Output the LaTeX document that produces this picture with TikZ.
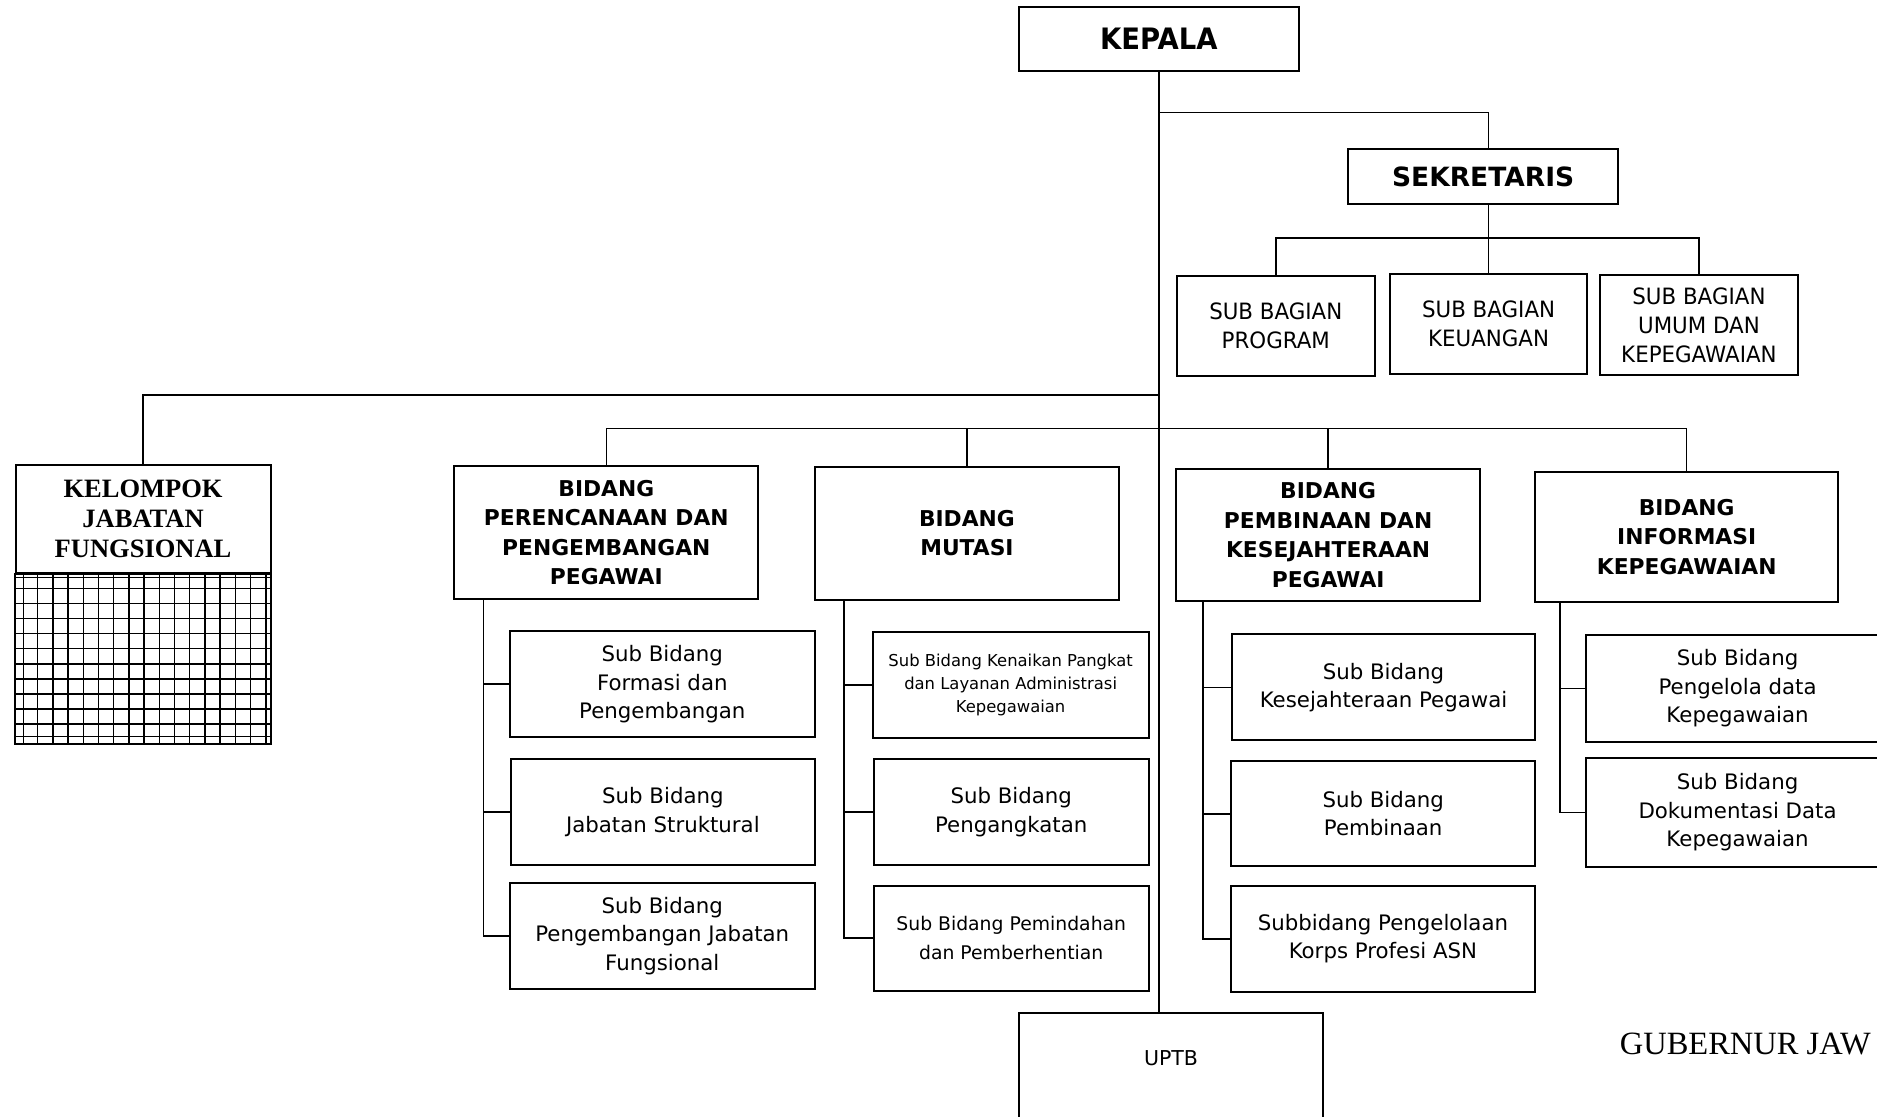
\documentclass[tikz,border=0pt]{standalone}
\usepackage{fontspec}
\setmainfont{DejaVu Sans}
\newfontfamily\sansnarrow[FakeStretch=0.95]{DejaVu Sans}
\newfontfamily\sanskep[FakeStretch=0.93]{DejaVu Sans}
\newfontfamily\timesf{Liberation Serif}
\usetikzlibrary{calc}
\begin{document}
\begin{tikzpicture}[x=1.19707pt,y=-1.19707pt,
  box/.style={draw,line width=2pt,inner sep=0pt,align=center},
  bx/.style n args={4}{at={({(#1+#3)/2},{(#2+#4)/2})},
     minimum width={(#3-#1)*1.19707pt}, minimum height={(#4-#2)*1.19707pt}},
  conn/.style={line width=1.6pt},
  gridln/.style={line width=1.5pt},
  subf/.style={font=\fontsize{21.3}{28.5}\selectfont},
  headf/.style={font=\bfseries\fontsize{21.8}{29.5}\selectfont},
  bagf/.style={font=\sansnarrow\fontsize{22.5}{29}\selectfont},
]
\useasboundingbox (0,0) rectangle (1568,933);
\fill[white] (0,0) rectangle (1568,933);
\clip (0,0) rectangle (1568,933);

% top
\node[box,bx={851}{6}{1085}{59},font=\sanskep\bfseries\fontsize{29.5}{32}\selectfont] (kepala) {KEPALA};
\node[box,bx={1126}{124.5}{1352}{170.5},font=\bfseries\fontsize{26.5}{30}\selectfont] (sek) {SEKRETARIS};
\node[box,bagf,bx={983}{230.5}{1148.5}{314}] (prog) {SUB BAGIAN\\PROGRAM};
\node[box,bagf,bx={1161}{229}{1326}{312.5}] (keu) {SUB BAGIAN\\KEUANGAN};
\node[box,bagf,bx={1336.5}{230}{1502}{313.5}] (umum) {SUB BAGIAN\\UMUM DAN\\KEPEGAWAIAN};

% kelompok jabatan fungsional
\node[box,bx={13}{388.5}{226}{479},font=\timesf\bfseries\fontsize{26.5}{30}\selectfont] (kel) {KELOMPOK\\JABATAN\\FUNGSIONAL};
\foreach \gx in {19.5,31.5,44.2,56.9,69.6,82.3,95,107.7,120.4,133.1,145.8,158.5,171.2,183.9,196.6,209.3,222}
  \draw[gridln] (\gx,479) -- (\gx,621.5);
\foreach \gy in {482.6,491.5,504.1,516.7,529.3,541.9,554.5,567.1,579.7,592.3,604.9,615.4}
  \draw[gridln] (13,\gy) -- (226,\gy);
\draw[line width=2pt] (kel.south west) rectangle (226,621.5);

% bidang
\node[box,headf,bx={379.5}{389}{633.5}{500.5}] (per) {BIDANG\\PERENCANAAN DAN\\PENGEMBANGAN\\PEGAWAI};
\node[box,headf,bx={681}{390}{934.5}{501}] (mut) {BIDANG\\MUTASI};
\node[box,headf,bx={982.5}{392}{1236.5}{502}] (pem) {BIDANG\\PEMBINAAN DAN\\KESEJAHTERAAN\\PEGAWAI};
\node[box,headf,bx={1282.5}{394}{1535.5}{502.5}] (inf) {BIDANG\\INFORMASI\\KEPEGAWAIAN};

% sub bidang
\node[box,subf,bx={426}{527}{680.5}{616}] (p1) {Sub Bidang\\Formasi dan\\Pengembangan};
\node[box,subf,bx={426.5}{634}{681}{722.5}] (p2) {Sub Bidang\\Jabatan Struktural};
\node[box,subf,bx={426}{738}{680.5}{826}] (p3) {Sub Bidang\\Pengembangan Jabatan\\Fungsional};

\node[box,bx={729}{528}{959.5}{616.5},font=\fontsize{16.4}{22.7}\selectfont] (m1) {Sub Bidang Kenaikan Pangkat\\dan Layanan Administrasi\\Kepegawaian};
\node[box,subf,bx={730}{634}{959.5}{722.5}] (m2) {Sub Bidang\\Pengangkatan};
\node[box,bx={730}{740}{959.5}{827.5},font=\fontsize{18.8}{28.5}\selectfont] (m3) {Sub Bidang Pemindahan\\dan Pemberhentian};

\node[box,subf,bx={1029}{530}{1282.5}{618.5}] (k1) {Sub Bidang\\Kesejahteraan Pegawai};
\node[box,subf,bx={1028.5}{636}{1282.5}{723.5}] (k2) {Sub Bidang\\Pembinaan};
\node[box,subf,bx={1028}{740}{1282.5}{828.5}] (k3) {Subbidang Pengelolaan\\Korps Profesi ASN};

\node[box,subf,bx={1325}{530.5}{1578}{619.5}] (i1) {Sub Bidang\\Pengelola data\\Kepegawaian};
\node[box,subf,bx={1325}{633.5}{1578}{724}] (i2) {Sub Bidang\\Dokumentasi Data\\Kepegawaian};

% UPTB
\node[box,bx={851}{846}{1105.5}{950},font=\fontsize{20.5}{24}\selectfont] (uptb) {\raisebox{9.9pt}[0pt][0pt]{UPTB}};

% footer text
\node[anchor=base west,inner sep=0pt,font=\timesf\fontsize{32.5}{36}\selectfont] (gub) at (1353,881) {GUBERNUR JAW};

% connectors
\draw[conn] (kepala.south) -- (kepala.south |- uptb.north);
\draw[conn] (kepala.south |- 0,94) -| (sek.north -| keu.north);
\draw[conn] (sek.south -| keu.north) -- (keu.north);
\draw[conn] (prog.north) |- (umum.north |- 0,199) -- (umum.north);
\draw[conn] (kepala.south |- 0,330) -| (kel.north);
\draw[conn] (per.north) |- (inf.north |- 0,358) -- (inf.north);
\draw[conn] (mut.north) -- (mut.north |- 0,358);
\draw[conn] (pem.north) -- (pem.north |- 0,358);

\draw[conn] (per.south -| 404,0) |- (p3.west);
\draw[conn] (p1.west -| 404,0) -- (p1.west);
\draw[conn] (p2.west -| 404,0) -- (p2.west);

\draw[conn] (mut.south -| 705,0) |- (m3.west);
\draw[conn] (m1.west -| 705,0) -- (m1.west);
\draw[conn] (m2.west -| 705,0) -- (m2.west);

\draw[conn] (pem.south -| 1005,0) |- (k3.west);
\draw[conn] (k1.west -| 1005,0) -- (k1.west);
\draw[conn] (k2.west -| 1005,0) -- (k2.west);

\draw[conn] (inf.south -| 1303,0) |- (i2.west);
\draw[conn] (i1.west -| 1303,0) -- (i1.west);
\end{tikzpicture}
\end{document}
